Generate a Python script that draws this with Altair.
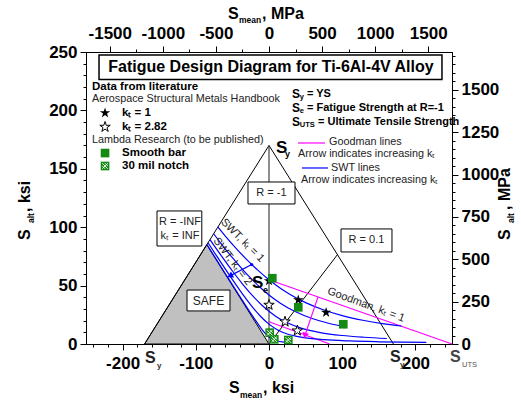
import altair as alt
import pandas as pd

FONT = "Liberation Sans"

# ---------------- data (ksi) ----------------
X_DOMAIN = [-250, 250]
Y_DOMAIN = [0, 250]
MPA_X_DOMAIN = [-1723.75, 1723.75]
MPA_Y_DOMAIN = [0, 1723.75]

X_TICKS = list(range(-240, 241, 20))
Y_TICKS = list(range(0, 251, 10))
MPA_X_TICKS = list(range(-1500, 1501, 250))
MPA_Y_TICKS = list(range(0, 1701, 50))

SAFE_X = [-170, -85, 0]
SAFE_Y = [0, 85, 0]
YIELD_X = [-170, 0, 170]
YIELD_Y = [0, 170, 0]
R01_X = [0, 93.5]
R01_Y = [0, 76.5]
RM1_X = [0]
RM1_Y0 = [0]
RM1_Y1 = [170]

GOODMAN_K1_X = [0, 250]
GOODMAN_K1_Y = [55, 0]
GOODMAN_K2_X = [0, 83]
GOODMAN_K2_Y = [19, 0]

SWT_A_X = [-70, -60, -45, -30, -15, 0, 15, 30, 50, 75, 100, 130, 155, 181]
SWT_A_Y = [100.2, 92.6, 81.9, 72.0, 63.0, 55.0, 48.0, 42.0, 35.4, 29.1, 24.3, 20.1, 17.5, 15.4]
SWT_B_X = [-75.6, -65, -50, -35, -20, -10, 0, 15, 35, 60, 80, 100]
SWT_B_Y = [94.4, 85.6, 73.9, 63.0, 53.2, 47.3, 42.0, 35.2, 28.0, 21.6, 18.0, 15.3]
SWT_C_X = [-80.6, -75, -65, -50, -35, -20, -10, 0, 10, 25, 45, 70, 100, 130, 161]
SWT_C_Y = [89.4, 84.3, 75.4, 62.5, 50.5, 39.7, 33.4, 28.0, 23.4, 18.2, 13.4, 9.8, 7.3, 5.8, 4.7]
SWT_D_X = [-83.3, -70, -55, -40, -25, -12, 0, 12, 25, 45, 75, 110, 150, 215]
SWT_D_Y = [86.7, 73.9, 59.8, 46.2, 33.6, 24.0, 17.0, 12.0, 8.6, 5.7, 3.7, 2.6, 1.9, 1.3]
SWT_E_X = [-84.8, -60, -40, -20, -10, -5, 0, 5, 10, 20.5]
SWT_E_Y = [85.2, 60.6, 40.9, 21.7, 12.8, 9.0, 6.0, 4.0, 2.8, 1.6]

SWT_ARROW_X = [-23.6, -53.3]
SWT_ARROW_Y = [68.0, 58.3]
GOOD_ARROW_X = [67, 49]
GOOD_ARROW_Y = [40.3, 7.2]

STAR_FILLED_X = [0, 40, 78]
STAR_FILLED_Y = [54, 37.7, 27]
STAR_HOLLOW_X = [0, 21.9, 38.7]
STAR_HOLLOW_Y = [33.4, 19.1, 11.4]
SMOOTH_X = [4.5, 40, 101.5]
SMOOTH_Y = [56.3, 31.4, 16.9]
NOTCH_X = [1, 7.2, 26.4]
NOTCH_Y = [9.7, 4.0, 3.4]

# ---------------- scales / axes ----------------
XS = alt.Scale(domain=X_DOMAIN, nice=False, zero=False)
YS = alt.Scale(domain=Y_DOMAIN, nice=False, zero=False)

AX_COMMON = dict(
    title=None, grid=False, labelFont=FONT, labelFontWeight="bold",
    labelFontSize=17, labelColor="black", domainColor="black",
    tickColor="black", domainWidth=1, tickWidth=1, format="d",
    labelFlush=False, labelOverlap=False,
)


def lab_expr(step):
    return (f"datum.value % {step} === 0 ? replace(datum.label, '\u2212', '-') : ''")


def tsize(step):
    return {"condition": {"test": f"datum.value % {step} === 0", "value": 6}, "value": 3}


XAX = alt.Axis(values=X_TICKS, labelExpr=lab_expr(100), tickSize=tsize(100), labelPadding=5, **AX_COMMON)
YAX = alt.Axis(values=Y_TICKS, labelExpr=lab_expr(50), tickSize=tsize(50), labelPadding=3, **AX_COMMON)
MXAX = alt.Axis(orient="top", values=MPA_X_TICKS, labelExpr=lab_expr(500), tickSize=tsize(500), labelPadding=4, **AX_COMMON)
MYAX = alt.Axis(orient="right", values=MPA_Y_TICKS, labelExpr=lab_expr(250), tickSize=tsize(250), labelPadding=3, **AX_COMMON)


def X(f="x"):
    return alt.X(f"{f}:Q", scale=XS, axis=XAX)


def Y(f="y"):
    return alt.Y(f"{f}:Q", scale=YS, axis=YAX)


def pts(xs, ys):
    return pd.DataFrame({"x": xs, "y": ys})


def line(xs, ys, color, width=1.0, interp="linear"):
    return alt.Chart(pts(xs, ys)).mark_line(color=color, strokeWidth=width, interpolate=interp).encode(x=X(), y=Y())


def box(x0, x1, y0, y1, width=1.0):
    df = pd.DataFrame({"x": [x0], "x2": [x1], "y": [y0], "y2": [y1]})
    return alt.Chart(df).mark_rect(fill="white", stroke="black", strokeWidth=width).encode(
        x=X(), x2=alt.X2("x2:Q"), y=Y(), y2=alt.Y2("y2:Q"))


def label(rows, size, weight="normal", align="left", baseline="middle", color="black", angle=0):
    df = pd.DataFrame(rows, columns=["t", "x", "y"])
    return alt.Chart(df).mark_text(font=FONT, fontSize=size, fontWeight=weight, align=align,
                                   baseline=baseline, color=color, angle=angle).encode(
        x=X(), y=Y(), text="t:N")


ONE = pd.DataFrame({"a": [0]})
LEFT, TOP = 86, 52


def ptext(t, px, py, size, weight="bold", angle=0, color="black"):
    return alt.Chart(ONE).mark_text(text=t, font=FONT, fontSize=size, fontWeight=weight, align="left",
                                    baseline="alphabetic", angle=angle, color=color).encode(
        x=alt.value(px - LEFT), y=alt.value(py - TOP))


STAR = ("M0,-1L0.2245,-0.309L0.9511,-0.309L0.3633,0.118L0.5878,0.809L0,0.382"
        "L-0.5878,0.809L-0.3633,0.118L-0.9511,-0.309L-0.2245,-0.309Z")
XMARK = "M-0.75,-0.75L0.75,0.75M-0.75,0.75L0.75,-0.75M-0.75,0L0,0.75M0,-0.75L0.75,0"
GREEN = "#138a13"
BLUE = "#0000ff"
MAGENTA = "#ff00ff"

layers = []
# safe region
layers.append(alt.Chart(pts(SAFE_X, SAFE_Y)).mark_area(fill="#c0c0c0", stroke="black", strokeWidth=1).encode(x=X(), y=Y()))
# structure lines
layers.append(line(YIELD_X, YIELD_Y, "black", 1.0))
layers.append(line(R01_X, R01_Y, "black", 1.0))
layers.append(alt.Chart(pd.DataFrame({"x": RM1_X, "y": RM1_Y0, "y2": RM1_Y1})).mark_rule(color="#444", strokeWidth=1.2).encode(
    x=X(), y=Y(), y2=alt.Y2("y2:Q")))
# Goodman
layers.append(line(GOODMAN_K1_X, GOODMAN_K1_Y, MAGENTA, 1.2))
layers.append(line(GOODMAN_K2_X, GOODMAN_K2_Y, MAGENTA, 1.2))
# SWT
for xs, ys in [(SWT_A_X, SWT_A_Y), (SWT_B_X, SWT_B_Y), (SWT_C_X, SWT_C_Y), (SWT_D_X, SWT_D_Y), (SWT_E_X, SWT_E_Y)]:
    layers.append(line(xs, ys, BLUE, 1.2, "monotone"))
# arrows
layers.append(line(SWT_ARROW_X, SWT_ARROW_Y, BLUE, 1.2))
layers.append(alt.Chart(pts(SWT_ARROW_X[1:], SWT_ARROW_Y[1:])).mark_point(shape="triangle-up", filled=True, color=BLUE, size=45, angle=242, opacity=1).encode(x=X(), y=Y()))
layers.append(alt.Chart(pts(SWT_ARROW_X[:1], SWT_ARROW_Y[:1])).mark_point(shape="circle", filled=True, color=BLUE, size=10, opacity=1).encode(x=X(), y=Y()))
layers.append(line(GOOD_ARROW_X, GOOD_ARROW_Y, MAGENTA, 1.2))
layers.append(alt.Chart(pts(GOOD_ARROW_X[1:], GOOD_ARROW_Y[1:])).mark_point(shape="triangle-up", filled=True, color=MAGENTA, size=45, angle=199, opacity=1).encode(x=X(), y=Y()))

# legend lines
layers.append(alt.Chart(pd.DataFrame({"x": [39.6], "x2": [76.5], "y": [172.1]})).mark_rule(color=MAGENTA, strokeWidth=1.2).encode(x=X(), x2=alt.X2("x2:Q"), y=Y()))
layers.append(alt.Chart(pd.DataFrame({"x": [45.1], "x2": [80.6], "y": [150.7]})).mark_rule(color=BLUE, strokeWidth=1.2).encode(x=X(), x2=alt.X2("x2:Q"), y=Y()))

# boxes
layers.append(box(-232.2, 236.3, 226.5, 247.4, 1.5))
layers.append(box(-153, -91.8, 83.9, 113.9))
layers.append(box(-112, -53.3, 28.3, 46.2))
layers.append(box(-28.7, 35.5, 119.9, 138.7))
layers.append(box(98.4, 168, 78.8, 98.5))

# texts in boxes
layers.append(label([("Fatigue Design Diagram for Ti-6Al-4V Alloy", 2.7, 236.9)], 16, "bold", "center"))
layers.append(label([("R = -INF", -121.6, 104.5), ("k\u209c = INF", -121.6, 92.5), ("R = -1", 3.4, 129.3),
                     ("R = 0.1", 133.2, 88.7)], 11, "normal", "center", color="#222"))
layers.append(label([("SAFE", -82.7, 37.2)], 12, "normal", "center", color="#222"))

# left legend
layers.append(label([("Data from literature", -241.8, 220), ("k\u209c = 1", -200.8, 197.8),
                     ("k\u209c = 2.82", -200.8, 185.8), ("Smooth bar", -200.8, 163.5),
                     ("30 mil notch", -200.8, 152.4)], 11.5, "bold"))
layers.append(label([("Aerospace Structural Metals Handbook", -241.8, 209.8),
                     ("Lambda Research (to be published)", -241.8, 174.7)], 10.8, "normal", color="#222"))
# right legend
layers.append(label([("S", 31.4, 214), ("S", 31.4, 202), ("S", 31.4, 190)], 12, "bold"))
layers.append(label([("y", 42, 211.5), ("e", 42, 199.5), ("UTS", 42, 187.5)], 7.5, "bold"))
layers.append(label([("= YS", 51.9, 214), ("= Fatigue Strength at R=-1", 51.9, 202)], 11, "bold"))
layers.append(label([("= Ultimate Tensile Strength", 66.9, 190)], 11, "bold"))
layers.append(label([("Goodman lines", 82, 172.9), ("Arrow indicates increasing k\u209c", 39.6, 162.7),
                     ("SWT lines", 84.7, 150.7), ("Arrow indicates increasing k\u209c", 43.7, 140.4)],
                    10.8, "normal", color="#222"))

# labels along lines
layers.append(label([("SWT, k\u209c = 1", -36.2, 88.6)], 11, "normal", "center", color="#222", angle=45))
layers.append(label([("SWT, k\u209c = 2", -49.9, 70.6)], 11, "normal", "center", color="#222", angle=53))
layers.append(label([("Goodman, k\u209c = 1", 132.5, 33.4)], 11, "normal", "center", color="#222", angle=20))

# S labels
layers.append(label([("S", 9.6, 163.5), ("S", -23.2, 47.9)], 17, "bold", baseline="alphabetic"))
layers.append(label([("y", 21.9, 160.1), ("e", -8.2, 43.7)], 9, "bold", baseline="alphabetic"))
layers.append(label([("S", -169.4, -16.3), ("S", 165.3, -15.4)], 16, "bold", baseline="alphabetic", color="#222"))
layers.append(label([("S", 247.3, -15.4)], 16, "bold", baseline="alphabetic", color="#444"))
layers.append(label([("y", -153, -20.5), ("y", 179, -19.7)], 8, "bold", baseline="alphabetic", color="#333"))
layers.append(label([("UTS", 263.7, -19.7)], 7.5, "normal", baseline="alphabetic", color="#555"))

# markers
LEG_X = -224
layers.append(alt.Chart(pts(STAR_FILLED_X + [LEG_X], STAR_FILLED_Y + [197.8])).mark_point(
    shape=STAR, filled=True, color="black", size=120, opacity=1).encode(x=X(), y=Y()))
layers.append(alt.Chart(pts(STAR_HOLLOW_X + [LEG_X], STAR_HOLLOW_Y + [185.8])).mark_point(
    shape=STAR, filled=True, fill="white", stroke="black", strokeWidth=1, size=120, opacity=1).encode(x=X(), y=Y()))
layers.append(alt.Chart(pts(SMOOTH_X + [LEG_X], SMOOTH_Y + [163.5])).mark_point(
    shape="square", filled=True, color=GREEN, size=75, opacity=1).encode(x=X(), y=Y()))
layers.append(alt.Chart(pts(NOTCH_X + [LEG_X], NOTCH_Y + [152.4])).mark_point(
    shape="square", filled=True, color=GREEN, size=75, opacity=1).encode(x=X(), y=Y()))
layers.append(alt.Chart(pts(NOTCH_X + [LEG_X], NOTCH_Y + [152.4])).mark_point(
    shape=XMARK, filled=False, color="white", strokeWidth=0.9, size=55, opacity=1).encode(x=X(), y=Y()))

# axis titles (pixel positions)
layers += [
    ptext("S", 228, 19, 16), ptext("mean", 239, 23, 8.5), ptext(", MPa", 262, 19, 16),
    ptext("S", 229, 393, 16), ptext("mean", 240, 398, 8.5), ptext(", ksi", 263, 393, 16),
    ptext("S", 30, 240, 16, angle=270), ptext("alt", 34, 223, 8.5, angle=270), ptext(", ksi", 30, 212, 16, angle=270),
    ptext("S", 510, 240, 16, angle=270), ptext("alt", 514, 223, 8.5, angle=270), ptext(", MPa", 510, 210, 16, angle=270),
]

main = alt.layer(*layers)

mpa = alt.Chart(pd.DataFrame({"xm": [0.0], "ym": [0.0]})).mark_point(opacity=0).encode(
    x=alt.X("xm:Q", scale=alt.Scale(domain=MPA_X_DOMAIN, nice=False, zero=False), axis=MXAX),
    y=alt.Y("ym:Q", scale=alt.Scale(domain=MPA_Y_DOMAIN, nice=False, zero=False), axis=MYAX),
)

chart = alt.layer(main, mpa).resolve_scale(x="independent", y="independent").properties(
    width=366, height=292,
    autosize=alt.AutoSizeParams(type="none"),
    padding={"left": LEFT, "top": TOP, "right": 521 - LEFT - 366, "bottom": 402 - TOP - 292},
    background="white",
).configure_view(stroke="black", strokeWidth=1)

chart.save("out.html", embed_options={"renderer": "svg", "actions": False})
